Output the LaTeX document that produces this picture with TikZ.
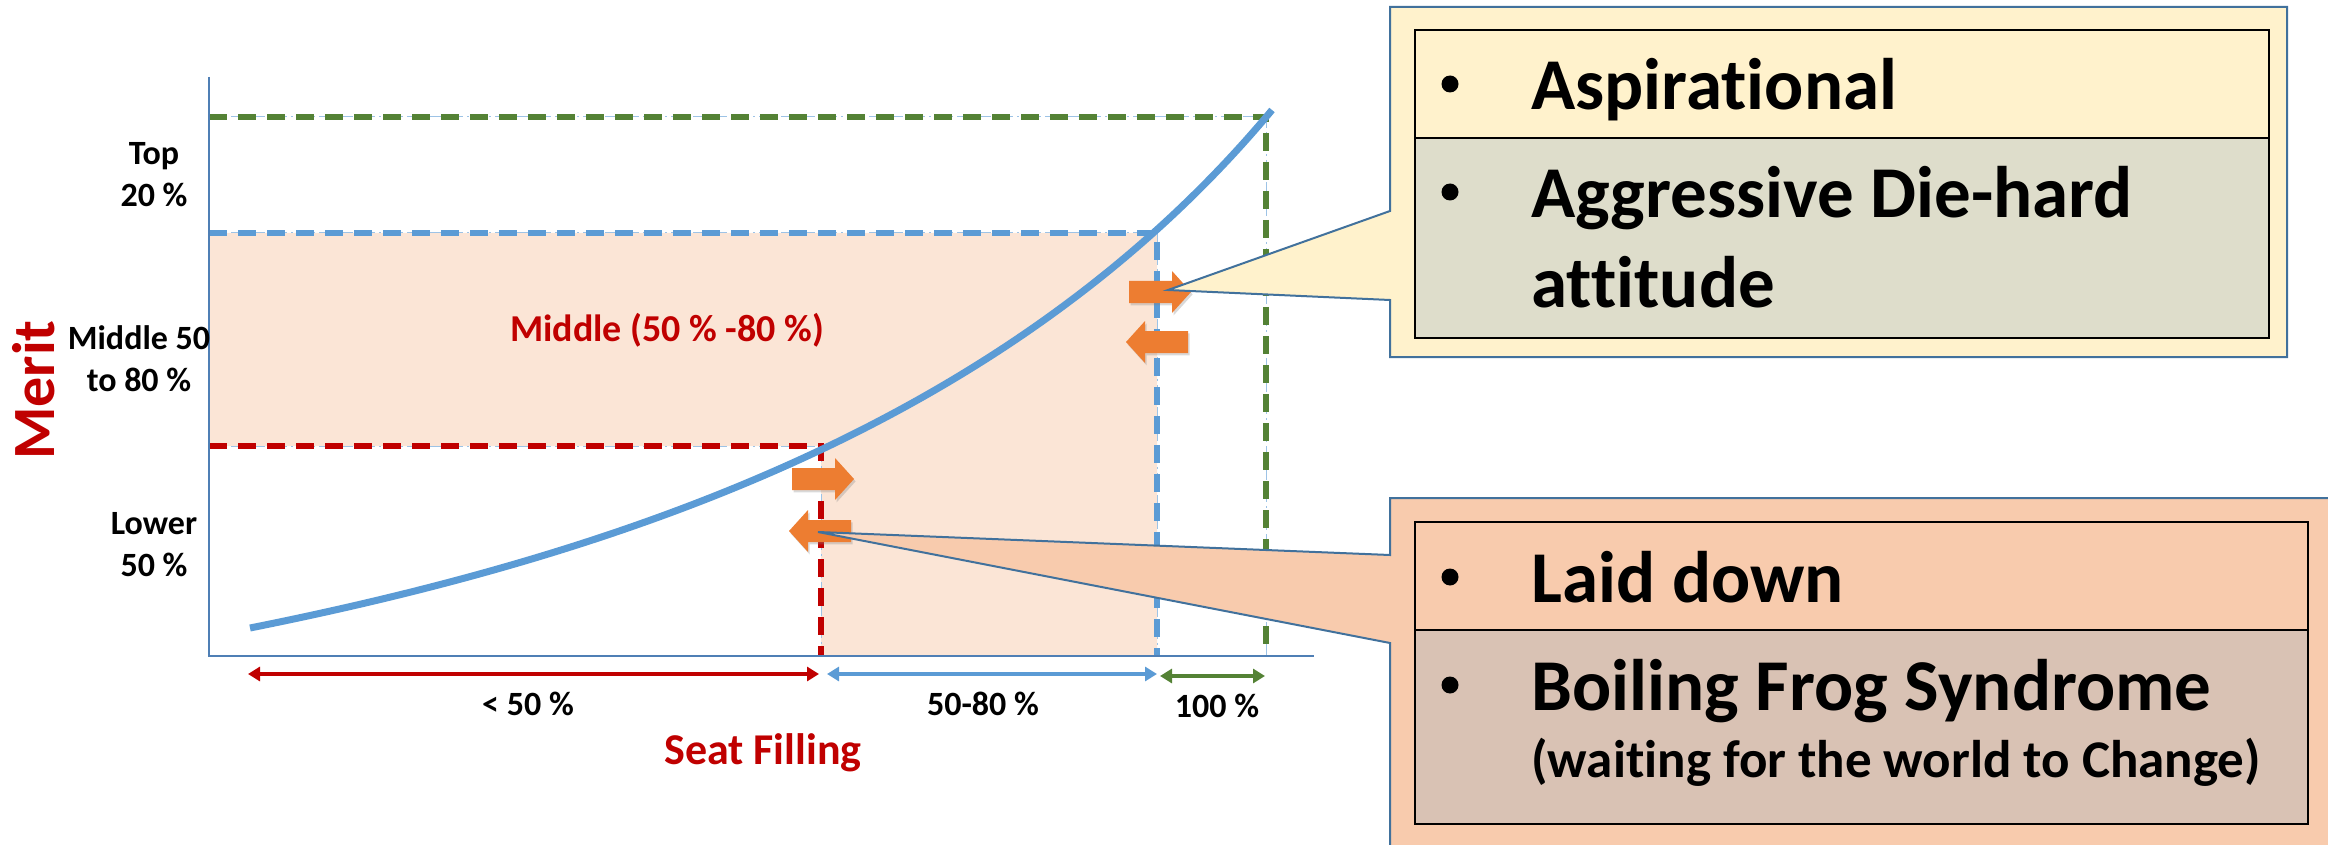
\documentclass[tikz,border=0pt]{standalone}
\usepackage{fontspec}
\setmainfont{Carlito}[Ligatures=NoCommon]
\usetikzlibrary{arrows.meta,shadows}
\definecolor{axisblue}{HTML}{4F7FB5}
\definecolor{curveblue}{HTML}{5B9BD5}
\definecolor{thinblue}{HTML}{9DC3E6}
\definecolor{lvgreen}{HTML}{548235}
\definecolor{lvred}{HTML}{C00000}
\definecolor{bandfill}{HTML}{FBE5D6}
\definecolor{arroworange}{HTML}{ED7D31}
\definecolor{calloutedge}{HTML}{41719C}
\definecolor{yellowbox}{HTML}{FFF2CC}
\definecolor{yellowrow}{HTML}{DEDDCB}
\definecolor{peachbox}{HTML}{F8CBAD}
\definecolor{peachrow}{HTML}{D9C2B4}
\begin{document}
\begin{tikzpicture}[x=0.5pt,y=-0.5pt,
  axisline/.style={draw=axisblue,line width=1.4pt},
  guide/.style={draw=thinblue,line width=0.5pt,dash pattern=on 6pt off 2pt on 1pt off 2pt},
  level/.style={line width=2.6pt,dash pattern=on 9pt off 5.5pt},
  span/.style={line width=1.6pt,{Triangle[length=6pt,width=7pt]}-{Triangle[length=6pt,width=7pt]}},
  blockarrow/.style={fill=arroworange,drop shadow={shadow xshift=0.8pt,shadow yshift=-1.2pt,opacity=.3}},
  rarrow/.pic={\fill[blockarrow] (-31,-11) -- (12,-11) -- (12,-21) -- (31,0) -- (12,21) -- (12,11) -- (-31,11) -- cycle;},
  larrow/.pic={\fill[blockarrow] (31,-11) -- (-12,-11) -- (-12,-21) -- (-31,0) -- (-12,21) -- (-12,11) -- (31,11) -- cycle;},
  callout/.style={draw=calloutedge,line width=1pt},
  rowbox/.style={draw=black,line width=1.2pt},
  dot/.style={circle,fill=black,inner sep=0pt,minimum size=8.5pt},
  ylabel/.style={font=\fontsize{17pt}{21pt}\selectfont\bfseries,align=center,inner sep=0pt},
  xlabel/.style={font=\fontsize{17pt}{21pt}\selectfont\bfseries,inner sep=0pt},
  bigtext/.style={font=\fontsize{36.5pt}{44.5pt}\selectfont\bfseries,inner sep=0pt,anchor=base west},
  smalltext/.style={font=\fontsize{26.5pt}{32pt}\selectfont\bfseries,inner sep=0pt,anchor=base west}
]
\useasboundingbox (0,0) rectangle (2328,845);
\clip (0,0) rectangle (2328,845);

% shaded middle band
\fill[bandfill] (209,233) -- (1157,233) -- (1157,656) -- (821,656) -- (821,446) -- (209,446) -- cycle;

% level guides
\coordinate (gT) at (1266,117);
\coordinate (bT) at (1157,233);
\coordinate (rT) at (821,446);
\draw[guide] (209,117) -- (gT) -- (1266,656);
\draw[guide] (209,233) -- (bT) -- (1157,656);
\draw[guide] (209,446) -- (rT) -- (821,656);
\draw[level,lvgreen] (209,117) -- (gT) -- (1266,656);
\draw[level,curveblue] (209,233) -- (bT) -- (1157,656);
\draw[level,lvred] (209,446) -- (rT) -- (821,656);

% axes
\coordinate (yTop) at (209,77);
\coordinate (origin) at (209,656);
\coordinate (xEnd) at (1314,656);
\draw[axisline] (yTop) -- (origin) -- (xEnd);

% merit curve
\coordinate (c0) at (250,628);
\coordinate (c1) at (1272,110);
\draw[curveblue,line width=3.5pt] (c0) .. controls (650,548) and (1022,410) .. (c1);

% labels on the merit axis
\node[ylabel] (lTop) at (154,175) {Top\\20 \%};
\node[ylabel] (lMid) at (139,359) {Middle 50\\to 80 \%};
\node[ylabel] (lLow) at (154,545) {Lower\\50 \%};
\node[font=\fontsize{30pt}{34pt}\selectfont\bfseries,text=lvred,rotate=90,inner sep=0pt] (merit) at (34,390) {Merit};

% band label
\node[font=\fontsize{19pt}{23pt}\selectfont\bfseries,text=lvred,inner sep=0pt] (band) at (667,330) {Middle (50 \% -80 \%)};

% seat filling ranges
\coordinate (s0) at (248,674);
\coordinate (s1) at (819,674);
\coordinate (s2) at (827,674);
\coordinate (s3) at (1157,674);
\coordinate (s4) at (1160,676);
\coordinate (s5) at (1265,676);
\draw[span,lvred] (s0) -- (s1);
\draw[span,curveblue] (s2) -- (s3);
\draw[span,lvgreen] (s4) -- (s5);
\node[xlabel] (p1) at (528,704) {< 50 \%};
\node[xlabel] (p2) at (983,704) {50-80 \%};
\node[xlabel] (p3) at (1217,706) {100 \%};
\node[font=\fontsize{22pt}{26pt}\selectfont\bfseries,text=lvred,inner sep=0pt] (seat) at (763,753) {Seat Filling};

% movement arrows
\pic at (1160,292) {rarrow};
\pic at (1157,342) {larrow};
\pic at (823,479) {rarrow};
\pic at (820,531) {larrow};
\coordinate (tipA) at (1168,290);
\coordinate (tipB) at (818,532);

% upper callout
\filldraw[callout,fill=yellowbox] (1390,7) -- (2287,7) -- (2287,357) -- (1390,357) -- (1390,300) -- (tipA) -- (1390,211) -- cycle;
\filldraw[rowbox,fill=yellowbox] (1415,30) rectangle (2269,138);
\filldraw[rowbox,fill=yellowrow] (1415,138) rectangle (2269,338);
\node[dot] (ba1) at (1450,84) {};
\node[bigtext] (ta1) at (1531,110) {Aspirational};
\node[dot] (ba2) at (1450,192) {};
\node[bigtext] (ta2) at (1531,218) {Aggressive Die-hard};
\node[bigtext] (ta3) at (1531,307) {attitude};

% lower callout
\filldraw[callout,fill=peachbox] (1390,498) -- (2345,498) -- (2345,870) -- (1390,870) -- (1390,643) -- (tipB) -- (1390,555) -- cycle;
\filldraw[rowbox,fill=peachbox] (1415,522) rectangle (2308,630);
\filldraw[rowbox,fill=peachrow] (1415,630) rectangle (2308,824);
\node[dot] (bb1) at (1450,577) {};
\node[bigtext] (tb1) at (1531,602) {Laid down};
\node[dot] (bb2) at (1450,685) {};
\node[bigtext] (tb2) at (1531,710) {Boiling Frog Syndrome};
\node[smalltext] (tb3) at (1531,777) {(waiting for the world to Change)};
\end{tikzpicture}
\end{document}
